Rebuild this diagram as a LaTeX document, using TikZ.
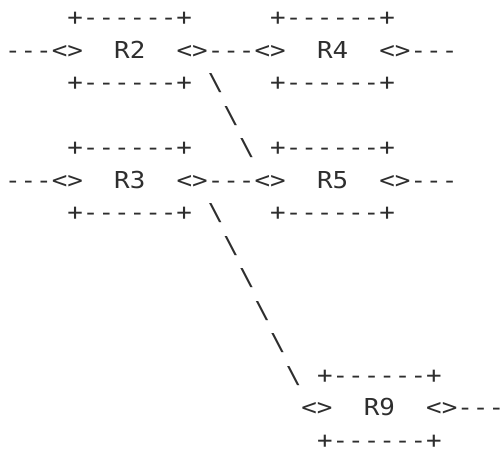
\documentclass[tikz,border=0pt]{standalone}
\usepackage{fontspec}
\setmonofont{DejaVu Sans Mono}[FakeStretch=1.11]
\usetikzlibrary{positioning}
\definecolor{asciigrey}{HTML}{2E2E2E}
\tikzset{ascii/.style={anchor=base west, inner sep=0pt, text depth=0pt, text=asciigrey,
  font=\ttfamily\fontsize{11.66pt}{14pt}\selectfont}}
% one piece of text on the character grid: {name}{row}{col}{text}
\newcommand{\asciibit}[4]{
  \pgfmathsetmacro{\x}{4.6+15.6*(#3)}
  \pgfmathsetmacro{\y}{25.5+32.5*(#2)}
  \node[ascii] (#1) at (\x,\y) {#4};
}
% a router box: {name}{row}{col}{label}
\newcommand{\routerbox}[4]{
  \pgfmathtruncatemacro{\rup}{#2-1}
  \pgfmathtruncatemacro{\rdown}{#2+1}
  \asciibit{#1top}{\rup}{#3+1}{+------+}
  \asciibit{#1in}{#2}{#3}{<>}
  \asciibit{#1}{#2}{#3+4}{#4}
  \asciibit{#1out}{#2}{#3+8}{<>}
  \asciibit{#1bot}{\rdown}{#3+1}{+------+}
}

\begin{document}
\begin{tikzpicture}[x=0.5pt,y=-0.5pt]
\useasboundingbox (0,0) rectangle (502,450);

% routers
  \routerbox{r2}{1}{3}{R2}
  \routerbox{r4}{1}{16}{R4}
  \routerbox{r3}{5}{3}{R3}
  \routerbox{r5}{5}{16}{R5}
  \routerbox{r9}{12}{19}{R9}

% links between the boxes
  \foreach \row in {1,5} {
    \asciibit{west\row}{\row}{0}{---}
    \asciibit{mid\row}{\row}{13}{---}
    \asciibit{east\row}{\row}{26}{---}
  }
  \asciibit{east12}{12}{29}{---}

% diagonal from R2 to R5
  \foreach \row in {2,...,4} {
    \asciibit{diaga\row}{\row}{\row+11}{\textbackslash}
  }
% diagonal from R3 to R9
  \foreach \row in {6,...,11} {
    \asciibit{diagb\row}{\row}{\row+7}{\textbackslash}
  }
\end{tikzpicture}
\end{document}
